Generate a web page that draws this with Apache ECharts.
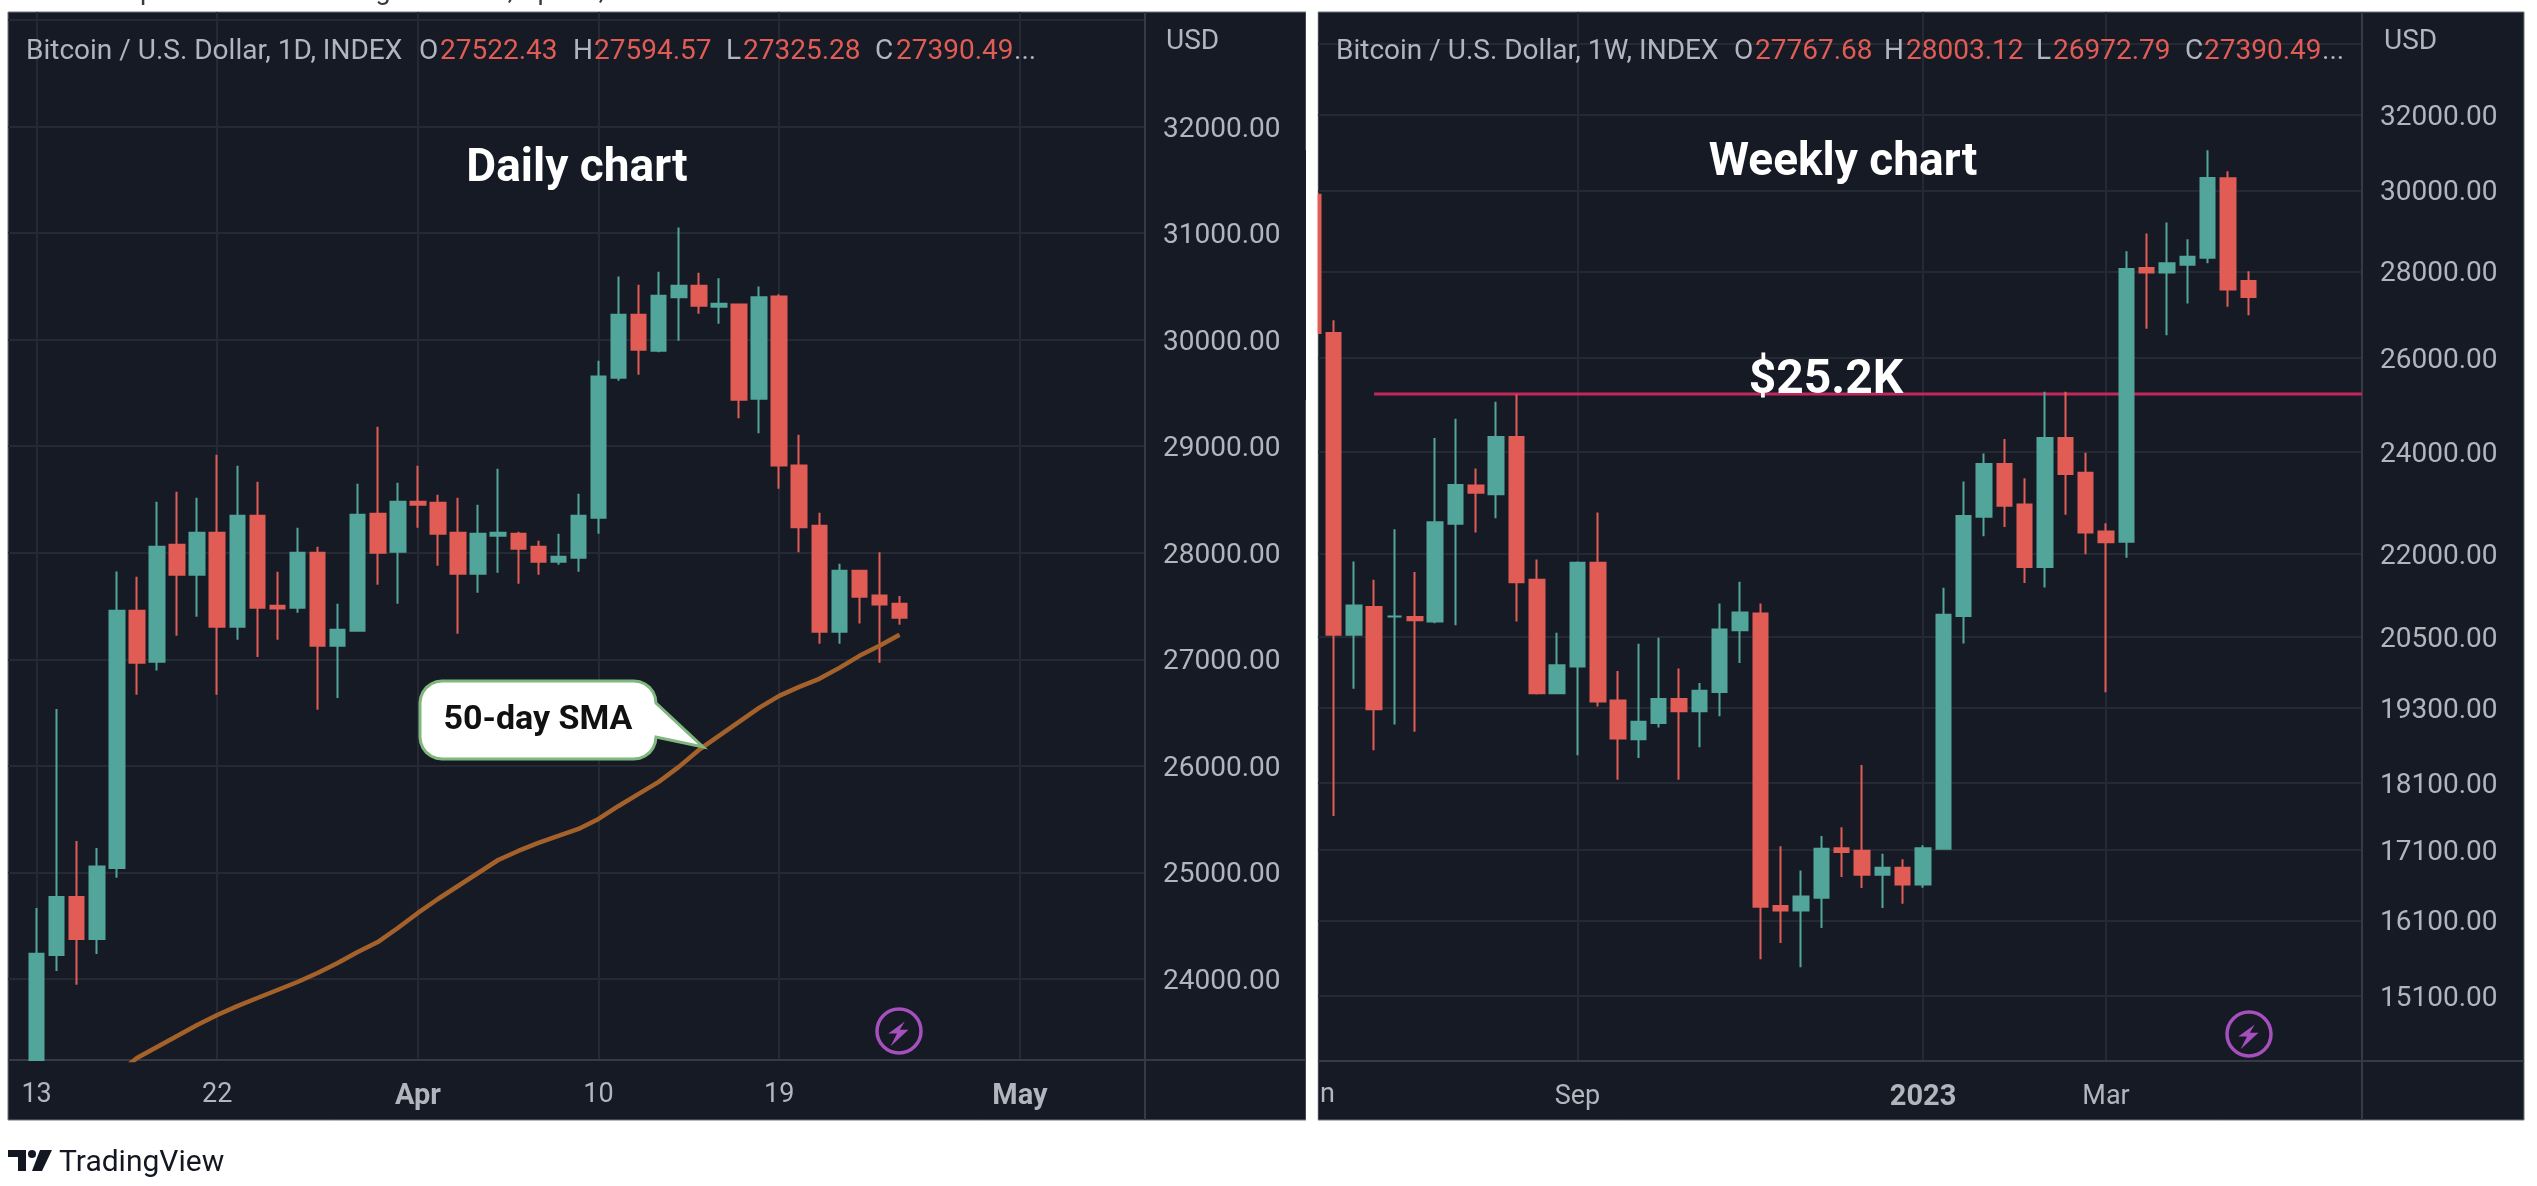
<!DOCTYPE html>
<html>
<head>
<meta charset="utf-8">
<title>Bitcoin daily and weekly chart</title>
<script src="https://cdn.jsdelivr.net/npm/echarts@6/dist/echarts.min.js"></script>
<style>
html, body { margin: 0; padding: 0; background: #fff; }
#main { width: 2537px; height: 1186px; }
</style>
</head>
<body>
<div id="main"></div>
<script>
// daily candles, Mar 13 - Apr 25 2023. The first one runs off the bottom of the chart, so it stops at the axis
var dailyDates = ['2023-03-13','2023-03-14','2023-03-15','2023-03-16','2023-03-17','2023-03-18','2023-03-19','2023-03-20','2023-03-21','2023-03-22','2023-03-23','2023-03-24','2023-03-25','2023-03-26','2023-03-27','2023-03-28','2023-03-29','2023-03-30','2023-03-31','2023-04-01','2023-04-02','2023-04-03','2023-04-04','2023-04-05','2023-04-06','2023-04-07','2023-04-08','2023-04-09','2023-04-10','2023-04-11','2023-04-12','2023-04-13','2023-04-14','2023-04-15','2023-04-16','2023-04-17','2023-04-18','2023-04-19','2023-04-20','2023-04-21','2023-04-22','2023-04-23','2023-04-24','2023-04-25'];
var dailyOpen = [23240,24225,24770,24375,25042,27455,26977,28075,27793,28188,27305,28347,27502,27484,28000,27127,27268,28366,28009,28479,28469,28188,27803,28160,28178,28056,27915,27953,28329,29643,30235,29897,30399,30507,30310,30329,29446,30404,28820,28254,27258,27831,27599,27522.43];
var dailyClose = [24238,24770,24375,25056,27455,26967,28056,27793,28188,27305,28347,27484,27477,28000,27127,27277,28357,28000,28479,28451,28178,27803,28178,28188,28038,27915,27962,28347,29655,30235,29906,30413,30507,30319,30338,29437,30399,28820,28239,27258,27831,27587,27515,27390.49];
var dailyLow = [23240,24075,23947,24235,24950,26667,26895,27221,27399,26667,27183,27023,27183,27437,26526,26638,27258,27700,27521,28235,27878,27239,27625,27812,27709,27793,27887,27822,28178,29615,29671,29883,29991,30244,30150,29262,29121,28601,28005,27146,27146,27337,26967,27325.28];
var dailyHigh = [24667,26535,25296,25230,27825,27775,28479,28573,28516,28920,28817,28667,27822,28235,28056,27521,28648,29183,28657,28817,28545,28516,28451,28789,28197,28113,28178,28554,29803,30592,30516,30638,31052,30629,30577,30338,30498,30426,29108,28376,27897,27831,28005,27594.57];

// 50-day SMA, starts below the visible range
var smaDates = ['2023-03-17','2023-03-18','2023-03-19','2023-03-20','2023-03-21','2023-03-22','2023-03-23','2023-03-24','2023-03-25','2023-03-26','2023-03-27','2023-03-28','2023-03-29','2023-03-30','2023-03-31','2023-04-01','2023-04-02','2023-04-03','2023-04-04','2023-04-05','2023-04-06','2023-04-07','2023-04-08','2023-04-09','2023-04-10','2023-04-11','2023-04-12','2023-04-13','2023-04-14','2023-04-15','2023-04-16','2023-04-17','2023-04-18','2023-04-19','2023-04-20','2023-04-21','2023-04-22','2023-04-23','2023-04-24','2023-04-25'];
var smaValues = [23108,23258,23362,23465,23568,23662,23746,23822,23897,23972,24056,24150,24254,24347,24479,24620,24751,24873,24995,25117,25202,25277,25343,25408,25502,25624,25737,25850,25991,26150,26282,26413,26545,26657,26742,26817,26920,27033,27127,27230];

// weekly candles, Jun 6 2022 - Apr 24 2023
var weeklyDates = ['2022-06-06','2022-06-13','2022-06-20','2022-06-27','2022-07-04','2022-07-11','2022-07-18','2022-07-25','2022-08-01','2022-08-08','2022-08-15','2022-08-22','2022-08-29','2022-09-05','2022-09-12','2022-09-19','2022-09-26','2022-10-03','2022-10-10','2022-10-17','2022-10-24','2022-10-31','2022-11-07','2022-11-14','2022-11-21','2022-11-28','2022-12-05','2022-12-12','2022-12-19','2022-12-26','2023-01-02','2023-01-09','2023-01-16','2023-01-23','2023-01-30','2023-02-06','2023-02-13','2023-02-20','2023-02-27','2023-03-06','2023-03-13','2023-03-20','2023-03-27','2023-04-03','2023-04-10','2023-04-17','2023-04-24'];
var weeklyOpen = [29885,26563,20538,21033,20861,20853,20771,22580,23328,23155,24312,21525,19540,19990,21840,19420,18790,19050,19445,19244,19560,20620,20914,16300,16238,16414,17120,17086,16740,16840,16600,17115,20870,22713,23758,22950,21760,24290,23580,22428,22235,28080,27970,28155,28325,30310,27767.68];
var weeklyClose = [26563,20538,21058,19276,20861,20794,22605,23338,23181,24312,21482,19540,20012,21840,19404,18800,19070,19445,19244,19580,20633,20932,16290,16238,16432,17115,17067,16740,16840,16600,17120,20893,22730,23758,22925,21760,24290,23554,22412,22225,28056,27970,28190,28350,30320,27570,27390.49];
var weeklyLow = [26500,17597,19615,18615,19025,18909,20740,20705,22409,22683,20771,19518,19530,18536,19320,18150,18490,18980,18150,18660,19160,20052,15576,15792,15470,15995,16706,16550,16270,16330,16555,17100,20387,22340,22515,21465,21386,22750,22000,19555,21935,26663,26517,27240,28190,27165,26972.79];
var weeklyHigh = [30000,26853,21865,21525,22474,21668,24290,24693,23666,25054,25209,21901,20574,21865,22795,19915,20382,20485,19956,19710,21094,21489,21094,17150,16800,17300,17430,18380,17040,16960,17165,21380,23405,23974,24270,23470,25266,25266,23986,22590,28480,28920,29190,28775,31045,30490,28003.12];

// $25.2K level on the weekly chart
var levelStartDate = '2022-06-27';
var levelValue = 25220;

// axis ticks
var dailyPriceTicks = [24000,25000,26000,27000,28000,29000,30000,31000,32000];
var dailyGridTicks = [24000,25000,26000,27000,28000,29000,30000,31000,32000,33000];
var weeklyPriceTicks = [15100,16100,17100,18100,19300,20500,22000,24000,26000,28000,30000,32000];
var weeklyGridTicks = [15100,16100,17100,18100,19300,20500,22000,24000,26000,28000,30000,32000,34000];
var dailyTimeDates = ['2023-03-13','2023-03-22','2023-04-01','2023-04-10','2023-04-19','2023-05-01'];
var dailyTimeLabels = ['13','22','{b|Apr}','10','19','{b|May}'];
var weeklyTimeDates = ['2022-09-05','2023-01-02','2023-03-06'];
var weeklyTimeLabels = ['Sep','{b|2023}','Mar'];

var UP = '#52a59a';
var DOWN = '#e15c54';
var BG = '#161a25';
var GRID = '#252934';
var BORDER = '#363a45';
var TEXT = '#b2b5be';
var FONT = 'Roboto';

// x axes are plain day numbers
function day(s) {
    return Date.parse(s) / 86400000;
}

function candles(dates, o, c, l, h) {
    var out = [];
    for (var i = 0; i < dates.length; i++) {
        out.push([day(dates[i]), o[i], c[i], l[i], h[i]]);
    }
    return out;
}

function labelMap(dates, labels) {
    var m = {};
    for (var i = 0; i < dates.length; i++) {
        m[day(dates[i])] = labels[i];
    }
    return m;
}

var dailyMin = day('2023-03-13') - 1.425;
var dailyMax = day('2023-03-13') + 55.23;
var weeklyMin = day('2023-01-02') - 29.76 * 7;
var weeklyMax = day('2023-01-02') + 21.59 * 7;

function timeAxis(index, min, max, dates, labels) {
    var m = labelMap(dates, labels);
    return {
        type: 'value', gridIndex: index, min: min, max: max, scale: true,
        axisLine: { show: false },
        axisTick: { show: false, customValues: dates.map(day) },
        splitLine: { show: true, lineStyle: { color: GRID, width: 2 } },
        axisLabel: {
            customValues: dates.map(day),
            margin: 22, color: TEXT, fontFamily: FONT, fontSize: 27,
            formatter: function(v) { return m[v] || ''; },
            rich: { b: { color: TEXT, fontFamily: FONT, fontSize: 29, fontWeight: 'bold' } }
        }
    };
}

function priceAxis(index, type, min, max, labels, grid) {
    return {
        type: type, gridIndex: index, position: 'right', min: min, max: max,
        axisLine: { show: false },
        axisTick: { show: false, customValues: grid },
        splitLine: { show: true, lineStyle: { color: GRID, width: 2 } },
        axisLabel: {
            customValues: labels,
            margin: 18, color: TEXT, fontFamily: FONT, fontSize: 28,
            // thin line box so the digits sit on the grid line
            verticalAlign: 'top', lineHeight: 6,
            formatter: function(v) { return Number(v).toFixed(2); }
        }
    };
}

function candleSeries(index, data) {
    return {
        type: 'candlestick', xAxisIndex: index, yAxisIndex: index,
        barWidth: 15, clip: true, data: data,
        itemStyle: { color: UP, color0: DOWN, borderColor: UP, borderColor0: DOWN, borderWidth: 2 }
    };
}

function rect(x, y, w, h) {
    return { type: 'rect', z: -2, shape: { x: x, y: y, width: w, height: h }, style: { fill: BG, stroke: '#70747f', lineWidth: 1 }, silent: true };
}

function line(x1, y1, x2, y2) {
    return { type: 'line', z: 1, shape: { x1: x1, y1: y1, x2: x2, y2: y2 }, style: { stroke: BORDER, lineWidth: 2 }, silent: true };
}

function txt(x, y, text, size, color, weight, align) {
    return {
        type: 'text', z: 60, x: x, y: y, silent: true,
        style: { text: text, fontFamily: FONT, fontSize: size, fill: color, fontWeight: weight || 'normal', align: align || 'left', verticalAlign: 'middle' }
    };
}

// one header row: pairs of [x, text, color]
function header(parts) {
    return parts.map(function(p) {
        return txt(p[0], 52, p[1], 28, p[2]);
    });
}

function bolt(cx, cy) {
    return {
        type: 'group', x: cx, y: cy, z: 60, silent: true,
        children: [
            { type: 'circle', z: 60, shape: { r: 22 }, style: { fill: 'none', stroke: '#a650bd', lineWidth: 3.5 } },
            { type: 'polygon', z: 60, shape: { points: [[5.8, -9.6], [-10.7, 2.6], [-2, 2.6], [-8.4, 15.3], [9.5, -1.2], [0.8, -1.2]] }, style: { fill: '#a650bd' } }
        ]
    };
}

// points of a quarter circle, for the callout corners
function corner(cx, cy, r, a0) {
    var pts = [];
    for (var k = 0; k <= 6; k++) {
        var a = (a0 + k * 15) * Math.PI / 180;
        pts.push([cx + r * Math.cos(a), cy + r * Math.sin(a)]);
    }
    return pts;
}

var calloutPoints = [].concat(
    corner(442, 703, 22, 180),
    corner(634, 703, 22, 270),
    [[703, 747]],
    corner(634, 737, 22, 0),
    corner(442, 737, 22, 90)
);

var graphics = [
    rect(8, 12, 1298, 1108),
    rect(1318, 12, 1206, 1108),
    line(8, 1060, 1306, 1060),
    line(1145, 12, 1145, 1120),
    line(1318, 1061, 2524, 1061),
    line(2362, 12, 2362, 1120),

    // the Jun 6 candle sticks out of the weekly panel, hide that part
    { type: 'rect', z: 10, silent: true, shape: { x: 1300, y: 150, width: 6, height: 250 }, style: { fill: BG } },
    { type: 'rect', z: 10, silent: true, shape: { x: 1306, y: 0, width: 11.5, height: 1186 }, style: { fill: '#fff' } },

    // top line is cut off in the source picture
    { type: 'text', z: 60, x: 12, y: 6, silent: true, style: { text: 'Chart was published on TradingView.com, Apr 25, 2023 UTC', fontFamily: FONT, fontSize: 27, fill: '#3a3a3a', verticalAlign: 'bottom' } }
].concat(
    header([[26, 'Bitcoin / U.S. Dollar, 1D, INDEX', TEXT], [419, 'O', TEXT], [440, '27522.43', DOWN], [573, 'H', TEXT], [594, '27594.57', DOWN], [726, 'L', TEXT], [743, '27325.28', DOWN], [875, 'C', TEXT], [896, '27390.49', DOWN], [1014, '...', TEXT]]),
    header([[1336, 'Bitcoin / U.S. Dollar, 1W, INDEX', TEXT], [1734, 'O', TEXT], [1755, '27767.68', DOWN], [1884, 'H', TEXT], [1906, '28003.12', DOWN], [2036, 'L', TEXT], [2053, '26972.79', DOWN], [2185, 'C', TEXT], [2204, '27390.49', DOWN], [2322, '...', TEXT]]),
    [
        txt(1166, 42, 'USD', 28, TEXT),
        txt(2384, 42, 'USD', 28, TEXT),
        txt(577, 169, 'Daily chart', 46, '#fff', 'bold', 'center'),
        txt(1843, 163, 'Weekly chart', 46, '#fff', 'bold', 'center'),
        txt(1826, 381, '$25.2K', 48, '#fff', 'bold', 'center'),
        txt(1320, 1095, 'n', 27, TEXT),

        // callout
        { type: 'polygon', z: 55, silent: true, shape: { points: calloutPoints }, style: { fill: '#fff', stroke: '#7fb77e', lineWidth: 3 } },
        txt(538, 720, '50-day SMA', 34, '#111', 'bold', 'center'),

        bolt(899, 1031),
        bolt(2249, 1034),

        // TradingView logo
        { type: 'polygon', z: 60, silent: true, shape: { points: [[8, 1150], [26, 1150], [26, 1171], [18, 1171], [18, 1157], [8, 1157]] }, style: { fill: '#131722' } },
        { type: 'circle', z: 60, silent: true, shape: { cx: 32, cy: 1154, r: 4 }, style: { fill: '#131722' } },
        { type: 'polygon', z: 60, silent: true, shape: { points: [[40, 1150], [52, 1150], [42, 1171], [32, 1171]] }, style: { fill: '#131722' } },
        txt(59, 1163, 'TradingView', 30, '#131722')
    ]
);

var smaData = [];
for (var i = 0; i < smaDates.length; i++) {
    smaData.push([day(smaDates[i]), smaValues[i]]);
}

var chart = echarts.init(document.getElementById('main'));
chart.setOption({
    animation: false,
    backgroundColor: '#fff',
    textStyle: { fontFamily: FONT },
    grid: [
        { left: 8, top: 12, width: 1137, height: 1048 },
        { left: 1318, top: 12, width: 1044, height: 1049.7 }
    ],
    xAxis: [
        timeAxis(0, dailyMin, dailyMax, dailyTimeDates, dailyTimeLabels),
        timeAxis(1, weeklyMin, weeklyMax, weeklyTimeDates, weeklyTimeLabels)
    ],
    yAxis: [
        priceAxis(0, 'value', 23240, 33075, dailyPriceTicks, dailyGridTicks),
        priceAxis(1, 'log', 14273, 34927, weeklyPriceTicks, weeklyGridTicks)
    ],
    series: [
        candleSeries(0, candles(dailyDates, dailyOpen, dailyClose, dailyLow, dailyHigh)),
        {
            type: 'line', xAxisIndex: 0, yAxisIndex: 0, data: smaData, z: 5,
            showSymbol: false, clip: true,
            lineStyle: { color: '#a4622a', width: 4.5 }
        },
        candleSeries(1, candles(weeklyDates, weeklyOpen, weeklyClose, weeklyLow, weeklyHigh)),
        {
            type: 'line', xAxisIndex: 1, yAxisIndex: 1, z: 1,
            data: [[day(levelStartDate), levelValue], [weeklyMax, levelValue]],
            showSymbol: false,
            lineStyle: { color: '#c2285c', width: 3 }
        }
    ],
    graphic: graphics
});
</script>
</body>
</html>
